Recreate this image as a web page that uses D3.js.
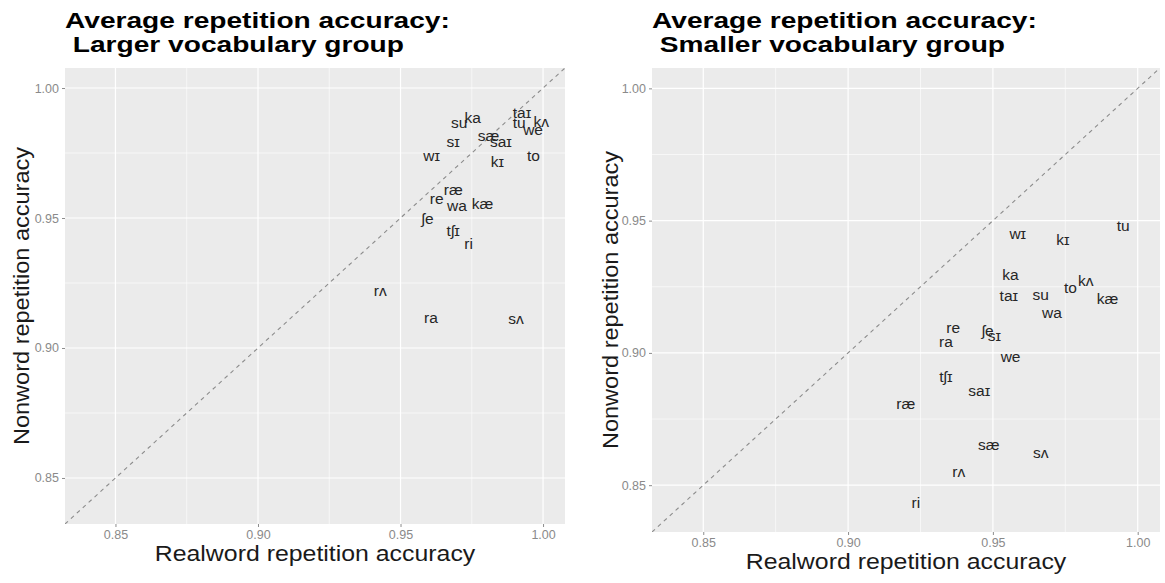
<!DOCTYPE html>
<html>
<head>
<meta charset="utf-8">
<script src="https://cdn.jsdelivr.net/npm/d3@7"></script>
<style>
  body { margin: 0; background: #fff; }
  svg text { font-family: "Liberation Sans", Arial, sans-serif; }
</style>
</head>
<body>
<svg id="chart" width="1165" height="583"></svg>
<script>
// syllables, same order for both groups
var syllables = ['su', 'ka', 'taɪ', 'tu', 'kʌ', 'we', 'sæ', 'saɪ', 'sɪ', 'wɪ', 'to',
                 'kɪ', 'ræ', 're', 'wa', 'kæ', 'ʃe', 'tʃɪ', 'ri', 'rʌ', 'ra', 'sʌ'];

// larger vocabulary group
var largeReal = [0.9706, 0.9753, 0.9926, 0.9916, 0.9994, 0.9965, 0.9809, 0.9852, 0.9685, 0.9609, 0.9966,
                 0.9840, 0.9685, 0.9627, 0.9698, 0.9788, 0.9595, 0.9685, 0.9739, 0.9429, 0.9607, 0.9905];
var largeNon  = [0.9865, 0.9884, 0.9904, 0.9865, 0.9867, 0.9839, 0.9814, 0.9792, 0.9792, 0.9737, 0.9737,
                 0.9713, 0.9608, 0.9570, 0.9544, 0.9554, 0.9493, 0.9448, 0.9400, 0.9216, 0.9114, 0.9110];

// smaller vocabulary group
var smallReal = [0.9665, 0.9561, 0.9555, 0.9950, 0.9821, 0.9561, 0.9486, 0.9453, 0.9505, 0.9586, 0.9768,
                 0.9742, 0.9199, 0.9363, 0.9704, 0.9896, 0.9482, 0.9338, 0.9234, 0.9382, 0.9338, 0.9665];
var smallNon  = [0.9218, 0.9293, 0.9214, 0.9477, 0.9271, 0.8984, 0.8649, 0.8854, 0.9062, 0.9450, 0.9243,
                 0.9426, 0.8806, 0.9094, 0.9151, 0.9201, 0.9081, 0.8907, 0.8433, 0.8547, 0.9039, 0.8622];

var majorTicks = [0.85, 0.90, 0.95, 1.00];
var minorTicks = [0.875, 0.925, 0.975];
var axisDomain = [0.8323, 1.0077];

var titles = [['Average repetition accuracy:', ' Larger vocabulary group'],
              ['Average repetition accuracy:', ' Smaller vocabulary group']];
var xTitle = 'Realword repetition accuracy';
var yTitle = 'Nonword repetition accuracy';

var svg = d3.select('#chart');

var panels = [
    {left: 65, right: 565, top: 68, bottom: 524, yTitleX: 29, title: titles[0], real: largeReal, non: largeNon},
    {left: 652, right: 1160, top: 68, bottom: 532, yTitleX: 618, title: titles[1], real: smallReal, non: smallNon}
];

panels.forEach(function(p, pi){

    var x = d3.scaleLinear().domain(axisDomain).range([p.left, p.right]);
    var y = d3.scaleLinear().domain(axisDomain).range([p.bottom, p.top]);

    var g = svg.append('g');

    // title, two lines (the reference glyphs are wider than tall, hence the x stretch)
    g.append('text')
        .attr('transform', 'translate(' + p.left + ',28) scale(1.25,1)')
        .attr('font-size', 22.5)
        .attr('font-weight', 'bold')
        .attr('fill', '#000')
        .style('white-space', 'pre')
        .selectAll('tspan')
        .data(p.title)
        .enter()
        .append('tspan')
        .attr('x', 0)
        .attr('dy', function(d, i){ return i ? 24 : 0; })
        .text(function(d){ return d; });

    // panel background
    g.append('rect')
        .attr('x', p.left)
        .attr('y', p.top)
        .attr('width', p.right - p.left)
        .attr('height', p.bottom - p.top)
        .attr('fill', '#ebebeb');

    var clipId = 'clip' + pi;
    g.append('clipPath').attr('id', clipId)
        .append('rect')
        .attr('x', p.left).attr('y', p.top)
        .attr('width', p.right - p.left).attr('height', p.bottom - p.top);

    //minor grid
    g.selectAll('line.minor-x').data(minorTicks).enter().append('line')
        .attr('x1', x).attr('x2', x).attr('y1', p.top).attr('y2', p.bottom)
        .attr('stroke', '#fff').attr('stroke-width', 0.6);
    g.selectAll('line.minor-y').data(minorTicks).enter().append('line')
        .attr('y1', y).attr('y2', y).attr('x1', p.left).attr('x2', p.right)
        .attr('stroke', '#fff').attr('stroke-width', 0.6);

    //major grid
    g.selectAll('line.major-x').data(majorTicks).enter().append('line')
        .attr('x1', x).attr('x2', x).attr('y1', p.top).attr('y2', p.bottom)
        .attr('stroke', '#fff').attr('stroke-width', 1.2);
    g.selectAll('line.major-y').data(majorTicks).enter().append('line')
        .attr('y1', y).attr('y2', y).attr('x1', p.left).attr('x2', p.right)
        .attr('stroke', '#fff').attr('stroke-width', 1.2);

    // y = x reference line
    g.append('line')
        .attr('clip-path', 'url(#' + clipId + ')')
        .attr('x1', x(axisDomain[0])).attr('y1', y(axisDomain[0]))
        .attr('x2', x(axisDomain[1])).attr('y2', y(axisDomain[1]))
        .attr('stroke', '#8c8c8c')
        .attr('stroke-width', 1.1)
        .attr('stroke-dasharray', '4,4');

    // axes
    var xAxis = g.append('g')
        .attr('transform', 'translate(0,' + p.bottom + ')')
        .call(d3.axisBottom(x).tickValues(majorTicks).tickFormat(d3.format('.2f')).tickSize(3).tickPadding(3));
    var yAxis = g.append('g')
        .attr('transform', 'translate(' + p.left + ',0)')
        .call(d3.axisLeft(y).tickValues(majorTicks).tickFormat(d3.format('.2f')).tickSize(3).tickPadding(3));

    [xAxis, yAxis].forEach(function(a){
        a.select('.domain').remove();
        a.selectAll('.tick line').attr('stroke', '#8c8c8c');
        a.selectAll('.tick text')
            .attr('fill', '#8a8a8a')
            .attr('font-size', 12.5)
            .attr('font-family', '"Liberation Sans", Arial, sans-serif');
    });

    // axis titles
    g.append('text')
        .attr('transform', 'translate(' + ((p.left + p.right) / 2) + ',' + (p.bottom + 37) + ') scale(1.13,1)')
        .attr('text-anchor', 'middle')
        .attr('font-size', 22)
        .attr('fill', '#1a1a1a')
        .text(xTitle);

    g.append('text')
        .attr('transform', 'translate(' + p.yTitleX + ',' + ((p.top + p.bottom) / 2) + ') rotate(-90) scale(1.07,1)')
        .attr('text-anchor', 'middle')
        .attr('font-size', 22)
        .attr('fill', '#1a1a1a')
        .text(yTitle);

    // syllable labels
    var rows = syllables.map(function(s, i){
        return {label: s, real: p.real[i], non: p.non[i]};
    });

    g.selectAll('text.syl')
        .data(rows)
        .enter()
        .append('text')
        .attr('class', 'syl')
        .attr('x', function(d){ return x(d.real); })
        .attr('y', function(d){ return y(d.non); })
        .attr('dy', '0.3em')
        .attr('text-anchor', 'middle')
        .attr('font-size', 15.5)
        .attr('fill', '#262626')
        .text(function(d){ return d.label; });
});
</script>
</body>
</html>
